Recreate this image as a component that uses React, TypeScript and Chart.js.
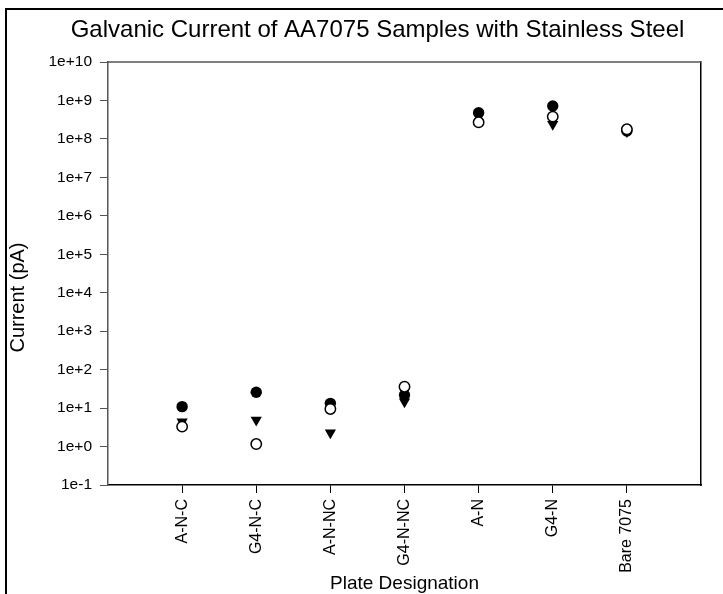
import React, { useEffect, useRef } from 'react';
import { Chart, registerables } from 'chart.js';
Chart.register(...registerables);

const categories = ['A-N-C', 'G4-N-C', 'A-N-NC', 'G4-N-NC', 'A-N', 'G4-N', 'Bare 7075'];
const filledCircle = [10.9, 25.8, 13.3, 22, 4.8e8, 7.2e8, 1.6e8];
const openCircle = [3.3, 1.16, 9.5, 36, 2.7e8, 3.8e8, 1.78e8];
const downTriangle = [4.4, 4.9, 2.3, 14.7, 3.8e8, 2.4e8, 1.55e8];
const yTickValues = [1e-1, 1e0, 1e1, 1e2, 1e3, 1e4, 1e5, 1e6, 1e7, 1e8, 1e9, 1e10];
const yTickLabels = ['1e-1', '1e+0', '1e+1', '1e+2', '1e+3', '1e+4', '1e+5', '1e+6', '1e+7', '1e+8', '1e+9', '1e+10'];
const yAxisTitle = 'Current (pA)';

const FONT = "'Liberation Sans', Arial, sans-serif";

const toPoints = (arr: number[]) => arr.map((v, i) => ({ x: i + 1, y: v }));

const framePlugin = {
  id: 'frame',
  afterDraw(chart: any) {
    const { ctx, chartArea } = chart;
    const { left, top, right, bottom } = chartArea;
    ctx.save();
    // outer figure frame (top and left edges)
    ctx.strokeStyle = '#000';
    ctx.lineWidth = 2;
    ctx.beginPath();
    ctx.moveTo(6, chart.height);
    ctx.lineTo(6, 9);
    ctx.lineTo(chart.width, 9);
    ctx.stroke();
    // top edge of plot box
    ctx.lineWidth = 1.5;
    ctx.strokeStyle = '#555';
    ctx.beginPath();
    ctx.moveTo(left, top);
    ctx.lineTo(right, top);
    ctx.stroke();
    // y axis title
    ctx.fillStyle = '#000';
    ctx.font = `20px ${FONT}`;
    ctx.textAlign = 'center';
    ctx.textBaseline = 'middle';
    ctx.translate(18, (top + bottom) / 2 + 24);
    ctx.rotate(-Math.PI / 2);
    ctx.fillText(yAxisTitle, 0, 0);
    ctx.restore();
  },
};

export default function App() {
  const ref = useRef<HTMLCanvasElement>(null);
  useEffect(() => {
    if (!ref.current) return;
    const chart = new Chart(ref.current, {
      type: 'scatter',
      data: {
        datasets: [
          {
            label: 'open',
            data: toPoints(openCircle),
            pointStyle: 'circle',
            pointRadius: 5.2,
            pointBackgroundColor: '#fff',
            pointBorderColor: '#000',
            pointBorderWidth: 1.5,
            order: 0,
          },
          {
            label: 'filled',
            data: toPoints(filledCircle),
            pointStyle: 'circle',
            pointRadius: 5.7,
            pointBackgroundColor: '#000',
            pointBorderColor: '#000',
            pointBorderWidth: 0,
            order: 1,
          },
          {
            label: 'triangle',
            data: toPoints(downTriangle),
            pointStyle: 'triangle',
            pointRotation: 180,
            pointRadius: 6.5,
            pointBackgroundColor: '#000',
            pointBorderColor: '#000',
            pointBorderWidth: 0,
            order: 2,
          },
        ],
      },
      options: {
        responsive: false,
        animation: false,
        layout: { padding: { left: 32, right: 0, top: 0, bottom: 0 } },
        plugins: {
          legend: { display: false },
          tooltip: { enabled: false },
          title: {
            display: true,
            text: 'Galvanic Current of AA7075 Samples with Stainless Steel',
            color: '#000',
            font: { family: FONT, size: 24, weight: 'normal' },
            padding: { top: 15.6, bottom: 17.6 },
          },
        },
        scales: {
          x: {
            type: 'linear',
            min: 0,
            max: 8,
            afterBuildTicks: (s: any) => {
              s.ticks = categories.map((_, i) => ({ value: i + 1 }));
            },
            afterFit: (s: any) => {
              s.height = 109;
            },
            ticks: {
              autoSkip: false,
              minRotation: 90,
              maxRotation: 90,
              padding: 6,
              color: '#000',
              font: { family: FONT, size: 16 },
              callback: (_v: any, i: number) => categories[i],
            },
            grid: { drawOnChartArea: false, drawTicks: true, tickLength: 8, color: '#000', lineWidth: 1 },
            border: { display: true, color: '#000', width: 1.5 },
            title: {
              display: true,
              text: 'Plate Designation',
              color: '#000',
              font: { family: FONT, size: 19 },
              padding: { top: 0, bottom: -1 },
            },
          },
          y: {
            type: 'logarithmic',
            min: 0.1,
            max: 1e10,
            afterBuildTicks: (s: any) => {
              s.ticks = yTickValues.map((v) => ({ value: v }));
            },
            afterFit: (s: any) => {
              s.width = 76;
            },
            ticks: {
              autoSkip: false,
              padding: 8,
              color: '#000',
              font: { family: FONT, size: 15.5 },
              callback: (_v: any, i: number) => yTickLabels[i],
            },
            grid: { drawOnChartArea: false, drawTicks: true, tickLength: 8, color: '#555', lineWidth: 1 },
            border: { display: true, color: '#555', width: 1.5 },
            title: { display: false },
          },
          yRight: {
            type: 'linear',
            position: 'right',
            afterFit: (s: any) => {
              s.width = 22;
            },
            ticks: { display: false },
            grid: { display: false, drawOnChartArea: false, drawTicks: false },
            border: { display: true, color: '#000', width: 1.5 },
          },
        },
      },
      plugins: [framePlugin],
    } as any);
    return () => chart.destroy();
  }, []);
  return (
    <div style={{ position: 'absolute', left: 0, top: 0 }}>
      <canvas ref={ref} width={723} height={594} />
    </div>
  );
}
